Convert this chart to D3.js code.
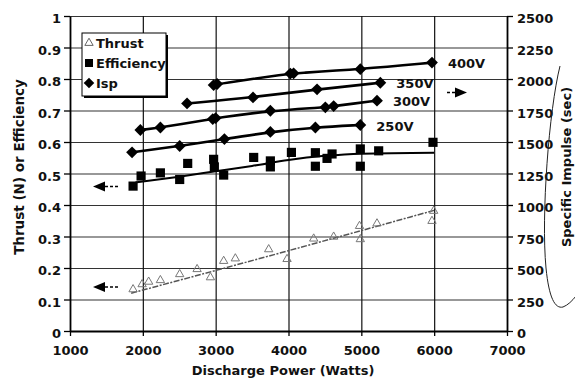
<!DOCTYPE html>
<html>
<head>
<meta charset="utf-8">
<script src="https://cdn.jsdelivr.net/npm/d3@7"></script>
<style>
body { margin: 0; background: #fff; }
svg text { font-family: "DejaVu Sans", sans-serif; font-weight: bold; fill: #111; }
</style>
</head>
<body>
<div id="chart"></div>
<script>
// axis ticks
const powerTicks = [1000, 2000, 3000, 4000, 5000, 6000, 7000];
const leftTicks = [0, 0.1, 0.2, 0.3, 0.4, 0.5, 0.6, 0.7, 0.8, 0.9, 1];
const rightTicks = [0, 250, 500, 750, 1000, 1250, 1500, 1750, 2000, 2250, 2500];

// thrust (N) vs discharge power (W)
const thrust = [[1866,0.129],[1990,0.145],[2080,0.153],[2241,0.158],[2506,0.177],[2745,0.193],
  [2928,0.167],[3110,0.219],[3270,0.227],[3728,0.256],[3980,0.225],[4346,0.29],[4620,0.296],
  [4975,0.33],[4986,0.288],[5215,0.338],[5993,0.378],[5970,0.346]];
const thrustTrend = [[1840,0.12],[4000,0.255],[6000,0.383]];

// anode efficiency
const efficiency = [[1866,0.46],[1976,0.492],[2241,0.502],[2506,0.481],[2616,0.532],[2972,0.545],
  [2982,0.521],[3110,0.495],[3522,0.551],[3751,0.521],[3751,0.54],[4040,0.567],[4369,0.566],[4369,0.523],
  [4529,0.548],[4598,0.562],[4986,0.578],[4986,0.523],[5238,0.572],[5984,0.599]];
const efficiencyTrend = [[1900,0.472],[2500,0.49],[3000,0.507],[3500,0.524],[4000,0.543],[4500,0.556],[5000,0.563],[6000,0.566]];

// specific impulse (s), one series per discharge voltage
const voltages = ["400V", "350V", "300V", "250V"];
const isp400 = [[2972,1952],[3020,1960],[4025,2043],[4070,2045],[4986,2078],[5970,2130]];
const isp350 = [[2607,1806],[3513,1854],[4392,1918],[5261,1970]];
const isp300 = [[1966,1595],[2241,1615],[2960,1682],[3000,1690],[3751,1748],[4506,1775],[4620,1785],[5215,1828]];
const isp250 = [[1852,1418],[2506,1468],[3120,1523],[3751,1580],[4369,1615],[4986,1635]];
const ispSeries = [isp400, isp350, isp300, isp250];

const W = 575, H = 383;
const margin = {top: 16, right: 68, bottom: 52, left: 70};
const width = W - margin.left - margin.right;
const height = H - margin.top - margin.bottom;

const svg = d3.select("#chart").append("svg")
  .attr("width", W).attr("height", H);

const g = svg.append("g")
  .attr("transform", "translate(" + margin.left + "," + margin.top + ")");

const x = d3.scaleLinear().domain([1000, 7000]).range([0, width]);
const yL = d3.scaleLinear().domain([0, 1]).range([height, 0]);
const yR = d3.scaleLinear().domain([0, 2500]).range([height, 0]);

// gridlines
g.append("g").attr("class", "gridy")
  .call(d3.axisLeft(yL).tickValues(leftTicks.slice(1)).tickSize(-width).tickFormat(""))
  .call(s => s.select(".domain").remove())
  .selectAll("line").attr("stroke", "#333").attr("stroke-width", 1.2);
g.append("g").attr("class", "gridx")
  .call(d3.axisBottom(x).tickValues(powerTicks.slice(1, -1)).tickSize(-height).tickFormat(""))
  .attr("transform", "translate(0," + height + ")")
  .call(s => s.select(".domain").remove())
  .selectAll("line").attr("stroke", "#111").attr("stroke-width", 1.2);

// axes
const yAxisL = g.append("g")
  .call(d3.axisLeft(yL).tickValues(leftTicks).tickSize(6).tickSizeOuter(0).tickPadding(3)
    .tickFormat(d => String(+d.toFixed(1))));
const yAxisR = g.append("g").attr("transform", "translate(" + width + ",0)")
  .call(d3.axisRight(yR).tickValues(rightTicks).tickSize(6).tickSizeOuter(0).tickPadding(4)
    .tickFormat(d3.format("d")));
const xAxis = g.append("g").attr("transform", "translate(0," + height + ")")
  .call(d3.axisBottom(x).tickValues(powerTicks).tickSize(5).tickSizeOuter(0).tickPadding(10)
    .tickFormat(d3.format("d")));

[yAxisL, yAxisR, xAxis].forEach(a => {
  a.select(".domain").attr("stroke", "#000").attr("stroke-width", 1.8);
  a.selectAll(".tick line").attr("stroke", "#000").attr("stroke-width", 1.3);
  a.selectAll("text").attr("font-size", 13).attr("font-family", null).attr("fill", "#111");
});
yAxisL.selectAll("text").attr("dy", "0.5em");
yAxisR.selectAll("text").attr("dy", "0.5em");

// axis titles
svg.append("text")
  .attr("x", 283).attr("y", 374.5)
  .attr("text-anchor", "middle").attr("font-size", 13)
  .text("Discharge Power (Watts)");
svg.append("text")
  .attr("transform", "translate(19,167) rotate(-90)")
  .attr("text-anchor", "middle").attr("dominant-baseline", "central")
  .attr("font-size", 13.5).attr("fill", "#000")
  .text("Thrust (N) or Efficiency");
svg.append("text")
  .attr("transform", "translate(566,167) rotate(-90)")
  .attr("text-anchor", "middle").attr("dominant-baseline", "central")
  .attr("font-size", 13).attr("fill", "#000")
  .text("Specific Impulse (sec)");

// hand drawn bracket around the right title
svg.append("path")
  .attr("d", "M560,66 C549,110 541,215 546,268 C549,298 555,309 563,307 C568,305 572,301 576,296")
  .attr("fill", "none").attr("stroke", "#222").attr("stroke-width", 1);

const line = (ys, curve) => d3.line().x(d => x(d[0])).y(d => ys(d[1])).curve(curve || d3.curveMonotoneX);

// thrust
g.append("path").datum(thrustTrend)
  .attr("d", line(yL))
  .attr("fill", "none").attr("stroke", "#555").attr("stroke-width", 1.5)
  .attr("stroke-dasharray", "6,1.5,2,1.5");
g.selectAll(".tri").data(thrust).enter().append("path")
  .attr("class", "tri")
  .attr("d", d3.symbol(d3.symbolTriangle, 30))
  .attr("transform", d => "translate(" + x(d[0]) + "," + (yL(d[1]) - 1) + ")")
  .attr("fill", "none").attr("stroke", "#777").attr("stroke-width", 1);

// efficiency
g.append("path").datum(efficiencyTrend)
  .attr("d", line(yL))
  .attr("fill", "none").attr("stroke", "#000").attr("stroke-width", 2);
g.selectAll(".sq").data(efficiency).enter().append("path")
  .attr("class", "sq")
  .attr("d", d3.symbol(d3.symbolSquare, 84))
  .attr("transform", d => "translate(" + x(d[0]) + "," + yL(d[1]) + ")")
  .attr("fill", "#000");

// isp lines
ispSeries.forEach((s, i) => {
  const sorted = s.slice().sort((a, b) => a[0] - b[0]);
  g.append("path").datum(sorted)
    .attr("d", line(yR, d3.curveBasis))
    .attr("fill", "none").attr("stroke", "#000").attr("stroke-width", 2.6);
  g.selectAll(".dm" + i).data(s).enter().append("path")
    .attr("d", d3.symbol(d3.symbolSquare, 70))
    .attr("transform", d => "translate(" + x(d[0]) + "," + yR(d[1]) + ") rotate(45)")
    .attr("fill", "#000");
  const last = sorted[sorted.length - 1];
  g.append("text")
    .attr("x", x(last[0]) + 16).attr("y", yR(last[1]) + 1)
    .attr("dy", "0.36em").attr("font-size", 13)
    .text(voltages[i]);
});

// arrows pointing to the axes
function arrow(x0, x1, y, dir) {
  const tip = dir < 0 ? x0 : x1;
  const base = tip - dir * 12;
  svg.append("path")
    .attr("d", "M" + tip + "," + y + "L" + base + "," + (y - 5) + "L" + base + "," + (y + 5) + "Z")
    .attr("fill", "#000");
  const tail = dir < 0 ? x1 : x0;
  svg.append("line")
    .attr("x1", base).attr("x2", tail).attr("y1", y).attr("y2", y)
    .attr("stroke", "#000").attr("stroke-width", 1.6).attr("stroke-dasharray", "3,2");
}
arrow(93, 118, 186.5, -1);
arrow(93, 118, 287, -1);
arrow(445, 467, 92.5, 1);

// legend
const leg = svg.append("g").attr("transform", "translate(82,33)");
leg.append("rect").attr("x", 2).attr("y", 2).attr("width", 84).attr("height", 63).attr("fill", "#000");
leg.append("rect").attr("width", 84).attr("height", 63).attr("fill", "#fff")
  .attr("stroke", "#000").attr("stroke-width", 1);
const legItems = [
  {name: "Thrust", sym: d3.symbolTriangle, size: 30, fill: "none", stroke: "#666", rot: 0},
  {name: "Efficiency", sym: d3.symbolSquare, size: 64, fill: "#000", stroke: "none", rot: 0},
  {name: "Isp", sym: d3.symbolSquare, size: 56, fill: "#000", stroke: "none", rot: 45}
];
legItems.forEach((it, i) => {
  const yy = 10 + i * 20;
  leg.append("path")
    .attr("d", d3.symbol(it.sym, it.size))
    .attr("transform", "translate(7," + yy + ") rotate(" + it.rot + ")")
    .attr("fill", it.fill).attr("stroke", it.stroke);
  leg.append("text")
    .attr("x", 14).attr("y", yy).attr("dy", "0.36em")
    .attr("font-size", 13)
    .text(it.name);
});
</script>
</body>
</html>
